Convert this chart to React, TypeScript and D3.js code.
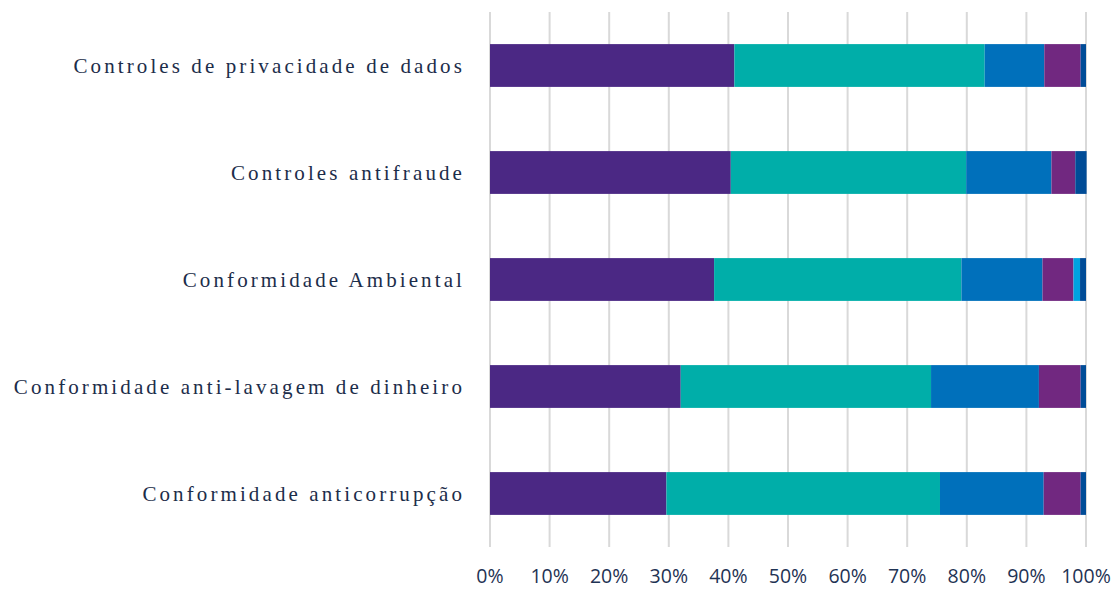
import React from "react";
import * as d3 from "d3";

const categories = [
  "Controles de privacidade de dados",
  "Controles antifraude",
  "Conformidade Ambiental",
  "Conformidade anti-lavagem de dinheiro",
  "Conformidade anticorrupção",
];

const seriesNames = ["S1", "S2", "S3", "S4", "S5", "S6"];
const s1 = [41.0, 40.4, 37.6, 32.0, 29.6];
const s2 = [42.0, 39.5, 41.5, 42.0, 45.9];
const s3 = [10.0, 14.3, 13.6, 18.1, 17.4];
const s4 = [6.1, 4.0, 5.2, 7.0, 6.2];
const s5 = [0.0, 0.0, 1.1, 0.0, 0.0];
const s6 = [0.9, 1.9, 1.0, 0.9, 0.9];
const seriesValues = [s1, s2, s3, s4, s5, s6];
const colors = ["#4B2884", "#00AEA9", "#0070BB", "#712880", "#00A3E0", "#004C97"];
const xTicks = [0, 10, 20, 30, 40, 50, 60, 70, 80, 90, 100];

const W = 1117;
const H = 589;
const left = 490;
const right = 1086;
const top = 12;
const bottom = 547;

export default function App() {
  const x = d3.scaleLinear().domain([0, 100]).range([left, right]);
  const y = d3
    .scaleBand<string>()
    .domain(categories)
    .range([top, bottom])
    .paddingInner(0.6)
    .paddingOuter(0.3);

  const rows = categories.map((c, i) => {
    const obj: any = { cat: c };
    seriesNames.forEach((s, j) => (obj[s] = seriesValues[j][i]));
    return obj;
  });
  const stack = d3.stack<any>().keys(seriesNames)(rows);

  return (
    <svg
      width={W}
      height={H}
      style={{ position: "absolute", left: 0, top: 0, background: "#fff" }}
    >
      {xTicks.map((t) => (
        <line
          key={t}
          x1={x(t)}
          x2={x(t)}
          y1={top}
          y2={bottom}
          stroke="#D9D9D9"
          strokeWidth={2}
        />
      ))}
      {stack.map((layer, j) =>
        layer.map((d, i) => {
          const w = x(d[1]) - x(d[0]);
          if (w <= 0) return null;
          return (
            <rect
              key={`${j}-${i}`}
              x={x(d[0])}
              y={y(categories[i])}
              width={w}
              height={y.bandwidth()}
              fill={colors[j]}
            />
          );
        })
      )}
      {xTicks.map((t) => (
        <text
          key={t}
          x={x(t)}
          y={583}
          textAnchor="middle"
          fontFamily="'Open Sans', 'Liberation Sans', sans-serif"
          fontSize={19.5}
          fill="#1F3354"
        >
          {t}%
        </text>
      ))}
      {categories.map((c) => (
        <text
          key={c}
          x={465}
          y={(y(c) as number) + y.bandwidth() / 2 + 7}
          textAnchor="end"
          fontFamily="'Liberation Serif', 'DejaVu Serif', serif"
          fontSize={21}
          letterSpacing={3.1}
          fill="#1C2D4A"
        >
          {c}
        </text>
      ))}
    </svg>
  );
}
